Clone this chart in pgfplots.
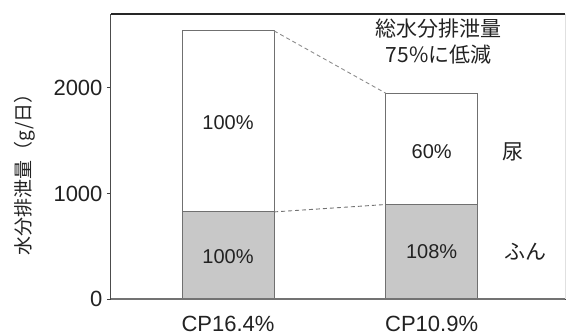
\documentclass[border=0pt]{standalone}
\usepackage{pgfplots}
\pgfplotsset{compat=1.18}
\usepackage{fontspec}
\setmainfont{Liberation Sans}
\newfontfamily\jp{Noto Sans CJK JP}

\definecolor{fecesgray}{HTML}{C8C8C8}
\definecolor{edgegray}{HTML}{707070}
\definecolor{txt}{HTML}{222222}

% totals per diet (urine + feces), g/day
\pgfplotstableread{
x total
0 2540
1 1950
}\totaltab
% feces per diet, g/day
\pgfplotstableread{
x feces
0 825
1 895
}\fecestab

\begin{document}
\begin{tikzpicture}
\useasboundingbox (-111pt,-37pt) rectangle (455pt,299pt);
\begin{axis}[
  scale only axis, width=454pt, height=285pt,
  xmin=-0.575, xmax=1.655, ymin=0, ymax=2700,
  ybar, bar width=0.452, bar shift=0pt,
  xtick={0,1}, xticklabels={CP16.4\%,CP10.9\%},
  ytick={0,1000,2000},
  tick align=outside, major tick length=4pt,
  xtick style={draw=none},
  ytick style={draw=black!75, line width=0.8pt},
  tick label style={font=\fontsize{22}{25}\selectfont, text=txt},
  /pgf/number format/assume math mode=true,
  /pgf/number format/set thousands separator={},
  xticklabel style={yshift=-10pt},
  yticklabel style={xshift=-1pt},
  axis line style={draw=none},
  clip=false,
]
% urine on top of feces: full-height white bar, gray feces bar over it
\addplot[fill=white, draw=edgegray, line width=1pt] table[x=x, y=total] {\totaltab};
\addplot[fill=fecesgray, draw=edgegray, line width=1pt] table[x=x, y=feces] {\fecestab};

% dashed connectors between the bars
\addplot[sharp plot, no marks, draw=black!45, line width=0.9pt, dash pattern=on 4pt off 3pt]
  coordinates {(0.226,2540) (0.774,1950)};
\addplot[sharp plot, no marks, draw=black!55, line width=0.9pt, dash pattern=on 4pt off 3pt]
  coordinates {(0.226,825) (0.774,895)};

% frame
\draw[black!85, line width=1.5pt] (rel axis cs:0,1) -- (rel axis cs:1,1);
\draw[black!70, line width=1pt] (rel axis cs:0,0) -- (rel axis cs:0,1);
\draw[black!55, line width=1.8pt] (rel axis cs:0,0) -- (rel axis cs:1,0);
\draw[black!12, line width=0.8pt] (rel axis cs:1,0) -- (rel axis cs:1,1);

% y axis title
\node[rotate=90, anchor=center, font=\jp\fontsize{19}{22}\selectfont, text=txt]
  at ([xshift=-86pt]rel axis cs:0,0.453) {水分排泄量（g/日）};

% percentages
\begin{scope}[every node/.style={font=\fontsize{20}{24}\selectfont, text=txt}]
\node at (axis cs:0,1668) {100\%};
\node at (axis cs:0,398) {100\%};
\node at (axis cs:1,1393) {60\%};
\node at (axis cs:1,445) {108\%};
\end{scope}

% component names and note
\begin{scope}[every node/.style={font=\jp\fontsize{21}{26}\selectfont, text=txt}]
\node at (axis cs:1.4,1393) {尿};
\node at (axis cs:1.46,445) {ふん};
\node[align=center, font=\jp\fontsize{21}{26}\selectfont] at (axis cs:1.035,2440) {総水分排泄量\\75\%に低減};
\end{scope}
\end{axis}
\end{tikzpicture}
\end{document}
